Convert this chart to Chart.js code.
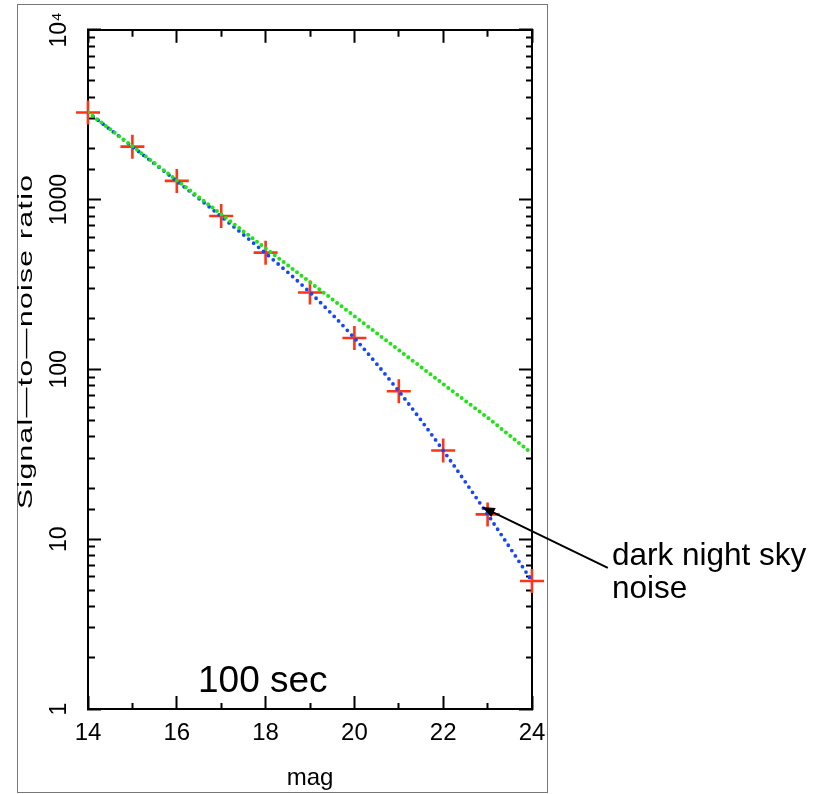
<!DOCTYPE html>
<html>
<head>
<meta charset="utf-8">
<script src="https://cdn.jsdelivr.net/npm/chart.js@4"></script>
<style>
  body { margin: 0; background: #fff; }
  #wrap { position: relative; width: 819px; height: 794px; }
</style>
</head>
<body>
<div id="wrap"><canvas id="snr"></canvas></div>
<script>
'use strict';

//Magnitudes along the x axis
var mags = [14, 15, 16, 17, 18, 19, 20, 21, 22, 23, 24];
//Measured signal-to-noise (red crosses)
var measuredSNR = [3260, 2050, 1289, 800, 487, 284, 153, 74.4, 33.3, 14.0, 5.67];
//Model including dark night sky noise (blue dots)
var skyNoiseSNR = [3260, 2050, 1285, 795, 483, 284, 153, 74.4, 33.3, 14.0, 5.67];
//Photon noise only (green dots)
var photonSNR = [3265, 2060, 1300, 820, 517, 326, 206, 130, 82, 52, 32];

//Tick labels
var xTickValues = [14, 16, 18, 20, 22, 24];
var xTickLabels = ['14', '16', '18', '20', '22', '24'];
var yTickValues = [1, 10, 100, 1000, 10000];
var yTickLabels = ['1', '10', '100', '1000', '10\u2074'];

var colors = {
	green: 'rgb(30, 228, 20)',
	blue: 'rgb(20, 70, 255)',
	red: 'rgb(255, 52, 22)',
	frame: 'rgb(120, 120, 120)'
};

var FONT = '"Liberation Sans", Arial, sans-serif';
var MAJOR = 13, MINOR = 7;

function pairs(xs, ys) {
	return xs.map(function (x, i) { return {x: x, y: ys[i]}; });
}

function isDecade(v) {
	var l = Math.log10(v);
	return Math.abs(l - Math.round(l)) < 1e-6;
}

function isEven(v) {
	return Math.abs(v % 2) < 1e-6;
}

//Ticks point into the plot, minor ones are shorter (done with a dash)
function gridFor(startsAtBorder, majorTest) {
	return {
		drawOnChartArea: false,
		drawTicks: true,
		tickLength: -MAJOR,
		tickWidth: 2,
		tickColor: '#000',
		tickBorderDash: function (c) {
			if (!c.tick || majorTest(c.tick.value)) return [];
			return startsAtBorder ? [MINOR, 100] : [0, MAJOR - MINOR, MINOR, 100];
		}
	};
}

var border = {color: '#000', width: 2};

var annotations = {
	id: 'annotations',
	beforeDraw: function (chart) {
		var ctx = chart.ctx;
		ctx.save();
		ctx.strokeStyle = colors.frame;
		ctx.lineWidth = 1;
		ctx.strokeRect(17.5, 4.5, 530, 788);
		ctx.restore();
	},
	afterDraw: function (chart) {
		var ctx = chart.ctx;
		var ca = chart.chartArea;
		var xs = chart.scales.x, ys = chart.scales.y;

		//y axis title
		ctx.save();
		ctx.fillStyle = '#000';
		ctx.translate(ca.left - 56, (ca.top + ca.bottom) / 2 - 28);
		ctx.rotate(-Math.PI / 2);
		ctx.scale(1.5, 1);
		ctx.font = '20px ' + FONT;
		ctx.letterSpacing = '0.9px';
		ctx.textAlign = 'center';
		ctx.textBaseline = 'alphabetic';
		ctx.fillText('Signal\u2014to\u2014noise ratio', 0, 0);
		ctx.restore();

		//exposure label
		ctx.save();
		ctx.fillStyle = '#000';
		ctx.font = '37px ' + FONT;
		ctx.textBaseline = 'alphabetic';
		ctx.fillText('100 sec', ca.left + 110, ca.bottom - 17);
		ctx.restore();

		//arrow to the sky noise curve
		var tipX = xs.getPixelForValue(22.87);
		var tipY = ys.getPixelForValue(15.5);
		var tailX = tipX + 126, tailY = tipY + 61;
		var ang = Math.atan2(tipY - tailY, tipX - tailX);
		ctx.save();
		ctx.strokeStyle = '#000';
		ctx.fillStyle = '#000';
		ctx.lineWidth = 2;
		ctx.beginPath();
		ctx.moveTo(tailX, tailY);
		ctx.lineTo(tipX - 8 * Math.cos(ang), tipY - 8 * Math.sin(ang));
		ctx.stroke();
		ctx.beginPath();
		ctx.moveTo(tipX, tipY);
		ctx.lineTo(tipX - 13 * Math.cos(ang) + 5 * Math.sin(ang), tipY - 13 * Math.sin(ang) - 5 * Math.cos(ang));
		ctx.lineTo(tipX - 13 * Math.cos(ang) - 5 * Math.sin(ang), tipY - 13 * Math.sin(ang) + 5 * Math.cos(ang));
		ctx.closePath();
		ctx.fill();

		ctx.font = '31.5px ' + FONT;
		ctx.textBaseline = 'alphabetic';
		ctx.fillText('dark night sky', ca.right + 80, tipY + 58);
		ctx.fillText('noise', ca.right + 80, tipY + 91);
		ctx.restore();
	}
};

var config = {
	type: 'line',
	data: {
		datasets: [{
			label: 'photon noise',
			data: pairs(mags, photonSNR),
			borderColor: colors.green,
			borderWidth: 4,
			borderDash: [0, 5.6],
			borderCapStyle: 'round',
			pointRadius: 0,
			fill: false
		}, {
			label: 'dark night sky noise',
			data: pairs(mags, skyNoiseSNR),
			borderColor: colors.blue,
			borderWidth: 3.8,
			borderDash: [0, 6.4],
			borderCapStyle: 'round',
			cubicInterpolationMode: 'monotone',
			pointRadius: 0,
			fill: false
		}, {
			label: 'measured',
			data: pairs(mags, measuredSNR),
			showLine: false,
			pointStyle: 'cross',
			pointRadius: 12,
			pointBorderWidth: 2.6,
			pointBorderColor: colors.red,
			pointBackgroundColor: colors.red,
			clip: false
		}]
	},
	options: {
		responsive: true,
		maintainAspectRatio: false,
		animation: false,
		events: [],
		layout: {padding: {left: 20, right: 287, top: 28, bottom: 0}},
		plugins: {legend: {display: false}, tooltip: {enabled: false}},
		scales: {
			x: {
				type: 'linear', position: 'bottom', min: 14, max: 24,
				ticks: {
					stepSize: 1, autoSkip: false, maxRotation: 0, padding: 23,
					color: '#000', font: {family: FONT, size: 24},
					callback: function (v) {
						var i = xTickValues.indexOf(v);
						return i < 0 ? '' : xTickLabels[i];
					}
				},
				grid: gridFor(true, isEven),
				border: border,
				title: {display: true, text: 'mag', color: '#000', font: {family: FONT, size: 24}, padding: {top: 0, bottom: 1}},
				afterFit: function (s) { s.height = 85; }
			},
			x2: {
				type: 'linear', position: 'top', min: 14, max: 24,
				ticks: {stepSize: 1, display: false},
				grid: gridFor(false, isEven),
				border: border,
				afterFit: function (s) { s.height = 0; }
			},
			y: {
				type: 'logarithmic', position: 'left', min: 1, max: 10000,
				ticks: {
					autoSkip: false, minRotation: 90, maxRotation: 90, crossAlign: 'center', padding: 16,
					color: '#000', font: {family: '"Liberation Sans Narrow", ' + FONT, size: 23},
					callback: function (v) {
						var i = yTickValues.indexOf(v);
						return i < 0 ? '' : yTickLabels[i];
					}
				},
				grid: gridFor(false, isDecade),
				border: border,
				afterFit: function (s) { s.width = 68; }
			},
			y2: {
				type: 'logarithmic', position: 'right', min: 1, max: 10000,
				ticks: {display: false, autoSkip: false},
				grid: gridFor(true, isDecade),
				border: border,
				afterFit: function (s) { s.width = 0; }
			}
		}
	},
	plugins: [annotations]
};

var ctx = document.getElementById('snr').getContext('2d');
window.snrChart = new Chart(ctx, config);
</script>
</body>
</html>
